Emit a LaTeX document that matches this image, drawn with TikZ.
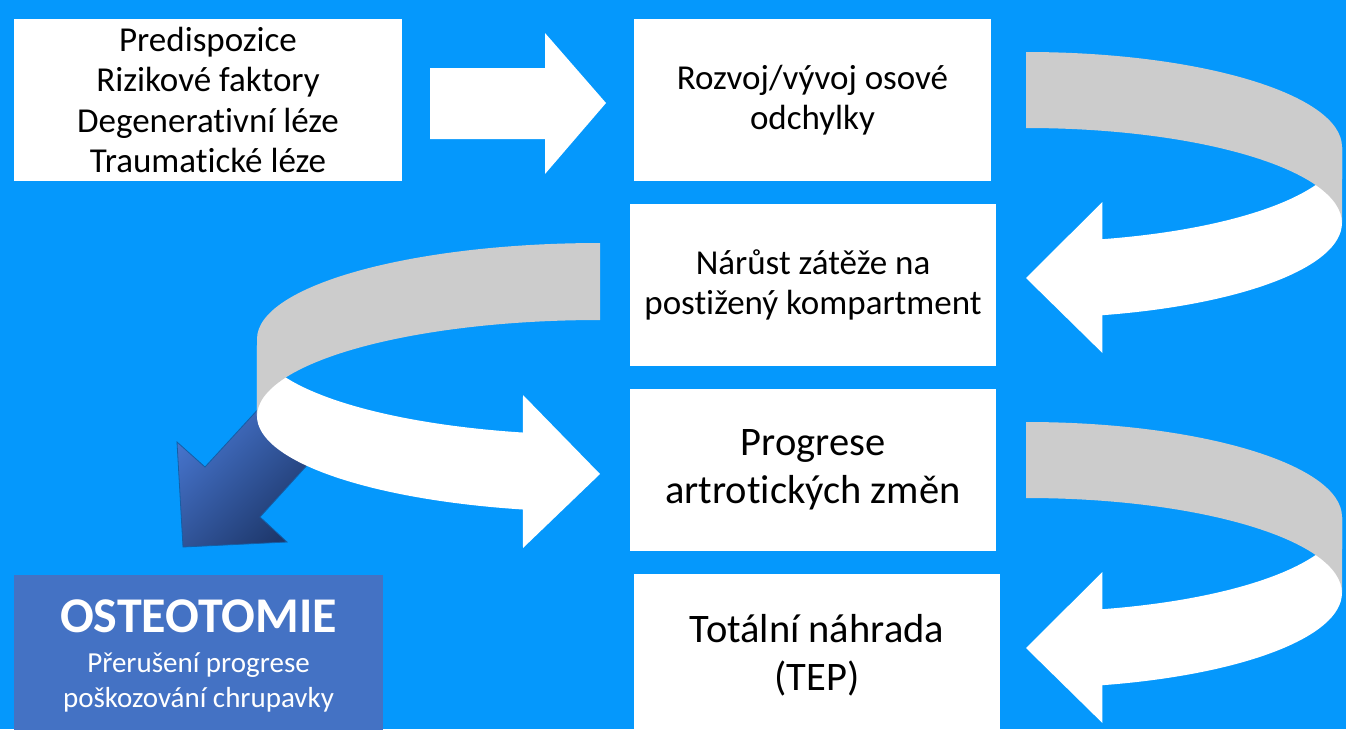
\documentclass[tikz,border=0pt]{standalone}
\usepackage{fontspec}
\setmainfont{Carlito}[Ligatures=CommonOff]
\usetikzlibrary{calc}

\definecolor{pozadi}{RGB}{5,152,252}
\definecolor{pasek}{RGB}{204,204,204}
\definecolor{osteo}{RGB}{68,114,196}
\definecolor{sipkasvetla}{RGB}{70,116,204}
\definecolor{sipkatmava}{RGB}{30,56,108}

\newcommand\stredpismo{\fontsize{35}{40.5}\selectfont}
\newcommand\velkepismo{\fontsize{40.5}{48}\selectfont}
\newcommand\malepismo{\fontsize{29}{35}\selectfont}

\tikzset{
  box/.style={fill=white,inner sep=0pt,align=center,minimum height=162pt},
}

\begin{document}
\begin{tikzpicture}[x=1pt,y=-1pt]
          %\draw[very thin,lightgray] (0,0) grid[step=50] (1346,729);
          \fill[pozadi] (0,0) rectangle (1346,729);
          \clip (0,0) rectangle (1346,729);
          % ramecky
          \node[box,minimum width=388pt,font=\stredpismo] (faktory) at (208,100)
            {Predispozice\\Rizikové faktory\\Degenerativní léze\\Traumatické léze};
          \node[box,minimum width=357pt,font=\stredpismo] (odchylka) at (812.5,100)
            {Rozvoj/vývoj osové\\odchylky};
          \node[box,minimum width=366pt,font=\stredpismo] (zatez) at (813,285)
            {Nárůst zátěže na\\postižený kompartment};
          \node[box,minimum width=366pt,font=\velkepismo] (progrese) at (813,470)
            {Progrese\\artrotických změn};
          \node[box,minimum width=366pt,font=\velkepismo] (tep) at (817,655)
            {Totální náhrada\\(TEP)};
          \node[box,fill=osteo,text=white,minimum width=369pt,font=\malepismo] (osteotomie) at (198.5,656)
            {{\fontsize{50}{50}\selectfont\bfseries OSTEOTOMIE}\\[5pt]
             Přerušení progrese\\poškozování chrupavky};
          % rovna sipka
          \fill[white] (430,68)--(545,68)--(545,33)--(606,103)--(545,174)--(545,139)--(430,139)--cycle;
          % smycky vpravo
          \foreach \dy in {0,370}{
            \fill[white] (1342,147+\dy) arc[start angle=0,end angle=-76,x radius=316pt,y radius=95pt]
              --(1102.4,202+\dy)--(1026,278+\dy)--(1102.4,353+\dy)--(1102.4,315.2+\dy)
              arc[start angle=-76,end angle=0,x radius=316pt,y radius=95pt]--cycle;
            \fill[pasek] (1026,52+\dy) arc[start angle=90,end angle=0,x radius=316pt,y radius=95pt]
              --(1342,223+\dy) arc[start angle=0,end angle=90,x radius=316pt,y radius=95pt]--cycle;
          }
          % sipka k osteotomii
          \shade[top color=sipkasvetla,bottom color=sipkatmava,shading angle=45,draw=sipkatmava!60!pozadi,line width=0.8pt]
            (262,405)--(205,467)--(177,442)--(183,547)--(287,542)--(260,517)--(310,462)--cycle;
          % smycka vlevo
          \fill[white] (257,339) arc[start angle=180,end angle=257,x radius=343pt,y radius=96pt]
            --(523,395)--(600,474)--(523,548)--(522.8,509.5)
            arc[start angle=257,end angle=180,x radius=343pt,y radius=96pt]--cycle;
          \fill[pasek] (600,243) arc[start angle=90,end angle=180,x radius=343pt,y radius=96pt]
            --(257,416) arc[start angle=180,end angle=90,x radius=343pt,y radius=96pt]--cycle;
        \end{tikzpicture}
\end{document}
